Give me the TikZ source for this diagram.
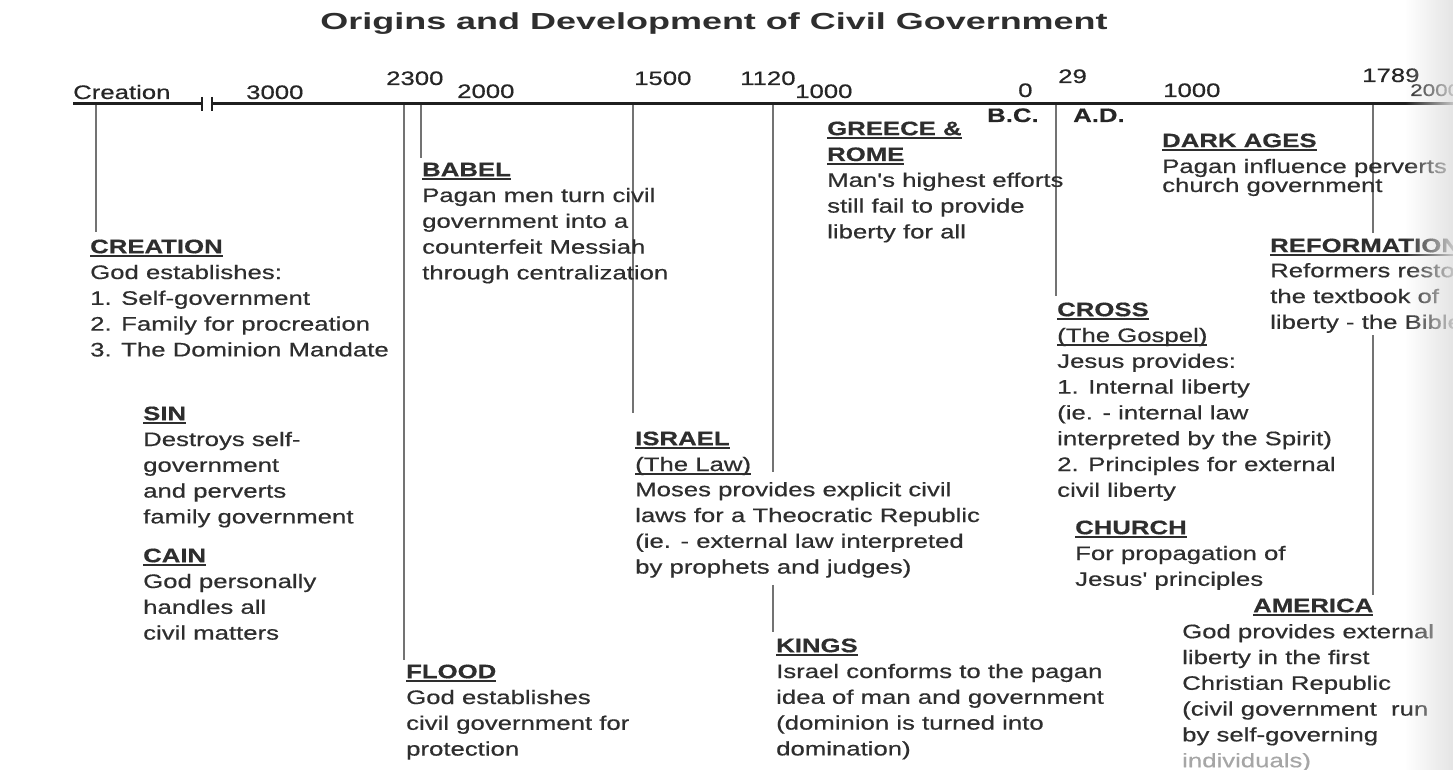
\documentclass[tikz,border=0pt]{standalone}
\usepackage{fontspec}
\setmainfont{Liberation Sans}
\newfontfamily\bodyfont{Liberation Sans}[FakeStretch=1.32,FakeBold=0.5]
\newfontfamily\titlefont{Liberation Sans}[FakeStretch=1.55]
\usetikzlibrary{fadings}
\tikzfading[name=fadeR, left color=transparent!100, right color=transparent!15]
\pgfdeclarelayer{background}
\pgfsetlayers{background,main}
\newcommand\fst{\rule{0pt}{15pt}}
\newcommand\hd[1]{\setbox0\hbox{\textbf{#1}}\rlap{\rule[-3.6pt]{\wd0}{1.7pt}}\box0}
\newcommand\ulin[1]{\setbox0\hbox{#1}\rlap{\rule[-3.6pt]{\wd0}{1.7pt}}\box0}
\begin{document}
\begin{tikzpicture}[x=1pt,y=-1pt,
  txt/.style={anchor=north west, inner sep=0pt, align=left, text=black!82,
    font=\bodyfont\fontsize{19.5}{25.8}\selectfont},
  lbl/.style={anchor=base west, inner sep=0pt, text=black!85,
    font=\bodyfont\fontsize{19.5}{24}\selectfont},
  drop/.style={draw=black!55, line width=1.4pt},
  axis/.style={draw=black!88, line width=3pt},
  tick/.style={draw=black!88, line width=1.5pt}]
\useasboundingbox (0,0) rectangle (1453,770);
\clip (0,0) rectangle (1453,770);

% title
\node[anchor=base, inner sep=0pt, text=black!82,
  font=\titlefont\bfseries\fontsize{23.2}{28}\selectfont] (title) at (714,29.5)
  {Origins and Development of Civil Government};

% axis
\coordinate (a0) at (73,104);
\coordinate (b1) at (202,104);
\coordinate (b2) at (212,104);
\coordinate (a1) at (1460,104);
\draw[axis] (a0) -- (b1);
\draw[axis] (b2) -- (a1);
\draw[tick] (202,97) -- (202,111);
\draw[tick] (212,97) -- (212,111);

% axis labels
\node[lbl] (lcre) at (73,99) {Creation};
\node[lbl] (l3000) at (246,99) {3000};
\node[lbl] (l2300) at (386,85) {2300};
\node[lbl] (l2000) at (457,98) {2000};
\node[lbl] (l1500) at (634,85) {1500};
\node[lbl] (l1120) at (740,85) {1120};
\node[lbl] (l1000a) at (795,98) {1000};
\node[lbl] (l0) at (1018,97) {0};
\node[lbl] (l29) at (1058,83) {29};
\node[lbl] (l1000b) at (1163,97) {1000};
\node[lbl] (l1789) at (1362,82) {1789};
\node[lbl, font=\bodyfont\fontsize{17}{20}\selectfont] (l2000b) at (1410,96) {2000};
\node[lbl, font=\bodyfont\bfseries\fontsize{19.5}{24}\selectfont] (bc) at (987,122) {B.C.};
\node[lbl, font=\bodyfont\bfseries\fontsize{19.5}{24}\selectfont] (ad) at (1073,122) {A.D.};

% drop points
\coordinate (d96) at (96,104);
\coordinate (d404) at (404,104);
\coordinate (d421) at (421,104);
\coordinate (d633) at (633,104);
\coordinate (d773) at (773,104);
\coordinate (d1056) at (1056,104);
\coordinate (d1373) at (1373,104);

% events
\node[txt] (creation) at (90,238) {\fst\hd{CREATION}\\God establishes:\\1. Self-government\\2. Family for procreation\\3. The Dominion Mandate};
\node[txt] (sin) at (143,405) {\fst\hd{SIN}\\Destroys self-\\government\\and perverts\\family government};
\node[txt] (cain) at (143,547) {\fst\hd{CAIN}\\God personally\\handles all\\civil matters};
\node[txt] (babel) at (422,161) {\fst\hd{BABEL}\\Pagan men turn civil\\government into a\\counterfeit Messiah\\through centralization};
\node[txt] (flood) at (406,663) {\fst\hd{FLOOD}\\God establishes\\civil government for\\protection};
\node[txt] (israelH) at (635,430) {\fst\hd{ISRAEL}\\\ulin{(The Law)}};
\node[txt] (israelB) at (635,481) {\fst Moses provides explicit civil\\laws for a Theocratic Republic\\(ie. - external law interpreted\\by prophets and judges)};
\node[txt] (greece) at (827,120) {\fst\hd{GREECE \&}\\\hd{ROME}\\Man's highest efforts\\still fail to provide\\liberty for all};
\node[txt] (kings) at (776,637) {\fst\hd{KINGS}\\Israel conforms to the pagan\\idea of man and government\\(dominion is turned into\\domination)};
\node[txt] (cross) at (1057,301) {\fst\hd{CROSS}\\\ulin{(The Gospel)}\\Jesus provides:\\1. Internal liberty\\(ie. - internal law\\interpreted by the Spirit)\\2. Principles for external\\civil liberty};
\node[txt] (church) at (1075,519) {\fst\hd{CHURCH}\\For propagation of\\Jesus' principles};
\node[txt] (dark) at (1162,132) {\fst\hd{DARK AGES}\\Pagan influence perverts\\[-6.8pt]church government};
\node[txt] (reformH) at (1270,237) {\fst\hd{REFORMATION}};
\node[txt] (reformB) at (1270,262) {\fst Reformers restore\\the textbook of\\liberty - the Bible};
\node[txt] (america) at (1253,597) {\fst\hd{AMERICA}};
\node[txt] (americaB) at (1182,623) {\fst God provides external\\liberty in the first\\Christian Republic\\(civil government\ \ run\\by self-governing\\{\color{black!35}individuals)}};

% connectors
\begin{pgfonlayer}{background}
\fill[white] (0,0) rectangle (1453,770);
\draw[drop, shorten >=6pt] (d96) -- (d96 |- creation.north);
\draw[drop, shorten >=3pt] (d404) -- (d404 |- flood.north);
\draw[drop, shorten >=3pt] (d421) -- (d421 |- babel.north);
\draw[drop, shorten >=17pt] (d633) -- (d633 |- israelH.north);
\draw[drop, shorten >=9pt] (d773) -- (d773 |- israelB.north);
\draw[drop, shorten <=7pt, shorten >=5pt] (d773 |- israelB.south) -- (d773 |- kings.north);
\draw[drop, shorten >=5pt] (d1056) -- (d1056 |- cross.north);
\draw[drop, shorten >=4pt] (d1373) -- (d1373 |- reformH.north);
\draw[drop, shorten <=2pt, shorten >=2pt] (d1373 |- reformB.south) -- (d1373 |- america.north);
\end{pgfonlayer}

% right edge fade
\fill[black!12, path fading=fadeR] (1405,0) rectangle (1453,770);
\end{tikzpicture}
\end{document}
